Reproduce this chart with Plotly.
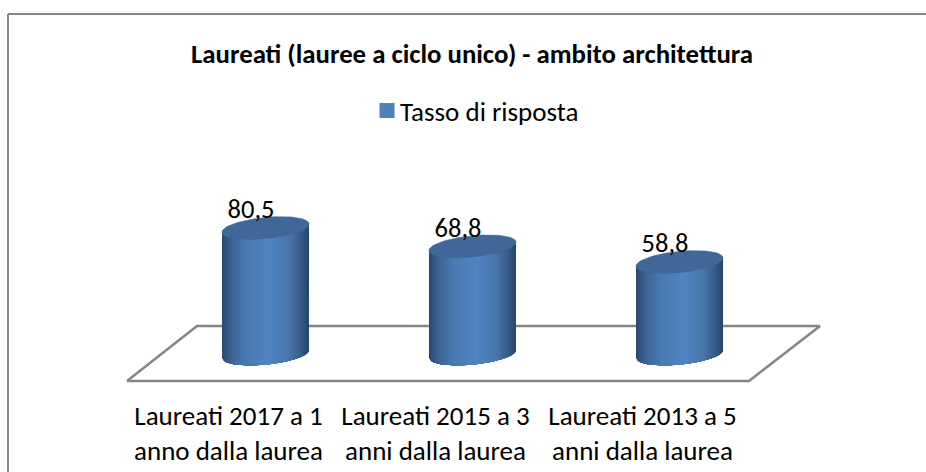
import numpy as np
import plotly.graph_objects as go

categories = ["Laureati 2017 a 1<br>anno dalla laurea",
              "Laureati 2015 a 3<br>anni dalla laurea",
              "Laureati 2013 a 5<br>anni dalla laurea"]
series_name = "Tasso di risposta"
values = [80.5, 68.8, 58.8]
value_labels = ["80,5", "68,8", "58,8"]
title_text = "Laureati (lauree a ciclo unico) - ambito architettura"

W, H = 926, 472
PLOT_BOTTOM = 384
PX_X = 207.0            # pixels per category
PX_Y = 1.565            # pixels per value unit
X0 = 228.5              # pixel of first tick
Y0 = 354.0              # pixel of value 0
CYL_OFF = 37.0          # 3-D shift of the columns from their tick (px)
A, B, SLOPE = 43.5, 10.6, 0.095
N = 58
FONT = "Carlito, Lato, sans-serif"


def X(px):
    return (px - X0) / PX_X


def Y(px):
    return (Y0 - px) / PX_Y


stops = [(0.0, (44, 74, 112)), (0.1, (60, 99, 147)), (0.28, (74, 122, 178)),
         (0.55, (81, 132, 195)), (0.78, (72, 118, 172)), (0.92, (54, 90, 135)),
         (1.0, (42, 70, 106))]


def grad(t):
    ts = [s[0] for s in stops]
    c = [np.interp(t, ts, [s[1][k] for s in stops]) for k in range(3)]
    return "rgb(%d,%d,%d)" % tuple(c)


fig = go.Figure()

fig.add_bar(x=[i + CYL_OFF / PX_X for i in range(3)], y=values, name=series_name, width=0.22,
            marker=dict(color="#4F81BD", line=dict(color="#4F81BD", width=3)),
            hoverinfo="skip", showlegend=True)

# floor of the 3-D chart
fx = [X(127), X(749), X(820), X(197), X(127)]
fy = [Y(381), Y(381), Y(326), Y(326), Y(381)]
fig.add_scatter(x=fx, y=fy, mode="lines", line=dict(color="#868686", width=2.5),
                showlegend=False, hoverinfo="skip", cliponaxis=False)

for i, v in enumerate(values):
    xc = X0 + i * PX_X + CYL_OFF
    h = v * PX_Y
    edges = np.linspace(-A, A, N + 1)
    for k in range(N):
        # every strip runs to the right edge and is painted over by the next one: no seams
        dx = np.linspace(edges[k], A, 40)
        arc = B * np.sqrt(np.clip(1 - (dx / A) ** 2, 0, 1))
        base = Y0 - SLOPE * dx + arc
        top = base - h
        xs = list(X(xc + dx)) + list(X(xc + dx[::-1]))
        ys = list(Y(top)) + list(Y(base[::-1]))
        col = grad(k / (N - 1))
        fig.add_scatter(x=xs + xs[:1], y=ys + ys[:1], mode="lines", fill="toself",
                        fillcolor=col, line=dict(width=0),
                        showlegend=False, hoverinfo="skip")
    t = np.linspace(0, 2 * np.pi, 80)
    dx = A * np.cos(t)
    cy = Y0 - h - SLOPE * dx + B * np.sin(t)
    fig.add_scatter(x=X(xc + dx), y=Y(cy), mode="lines", fill="toself",
                    fillcolor="#3F6797", line=dict(color="#3F6797", width=0.6),
                    showlegend=False, hoverinfo="skip")

# data labels
fig.add_scatter(x=[i + (CYL_OFF - 14.5) / PX_X for i in range(3)],
                y=[v + 10.5 for v in values], mode="text", text=value_labels,
                textfont=dict(family=FONT, size=26.5, color="#000000"),
                showlegend=False, hoverinfo="skip", cliponaxis=False)

fig.update_layout(
    width=W, height=H, autosize=False,
    margin=dict(l=0, r=0, t=0, b=H - PLOT_BOTTOM, pad=0),
    paper_bgcolor="white", plot_bgcolor="white",
    title=dict(text="<b>%s</b>" % title_text, x=472 / W, y=1 - 54 / H, xanchor="center",
               yanchor="middle", font=dict(family=FONT, size=26.8, color="#000000")),
    legend=dict(x=360 / W, y=1 - 111 / PLOT_BOTTOM, xanchor="left",
                yanchor="middle", orientation="h", bgcolor="rgba(0,0,0,0)",
                font=dict(family=FONT, size=27, color="#000000")),
    bargap=0,
    xaxis=dict(range=[X(0), X(W)], tickmode="array", tickvals=[0, 1, 2], ticktext=categories,
               showgrid=False, zeroline=False, showline=False, ticks="", ticklabelstandoff=13,
               tickfont=dict(family=FONT, size=27, color="#000000"), tickangle=0),
    yaxis=dict(range=[Y(PLOT_BOTTOM), Y(0)], visible=False, showgrid=False, zeroline=False),
    shapes=[
        dict(type="line", xref="paper", yref="paper", x0=8 / W, x1=1.02,
             y0=1 - 14 / PLOT_BOTTOM, y1=1 - 14 / PLOT_BOTTOM,
             line=dict(color="#868686", width=2), layer="below"),
        dict(type="line", xref="paper", yref="paper", x0=8 / W, x1=8 / W,
             y0=1 - 14 / PLOT_BOTTOM, y1=-(H + 20 - PLOT_BOTTOM) / PLOT_BOTTOM,
             line=dict(color="#868686", width=2), layer="below"),
    ],
)

# move the legend swatch next to its label, as in the reference
post = """
document.body.style.margin='0';
document.documentElement.style.overflow='hidden';
function nudge(){var s=document.querySelector('.legend .legendsymbols');
 if(s){s.setAttribute('transform','translate(7,0)');}}
nudge();setTimeout(nudge,50);setTimeout(nudge,300);
"""
fig.write_html("out.html", config={"displayModeBar": False}, post_script=post)
